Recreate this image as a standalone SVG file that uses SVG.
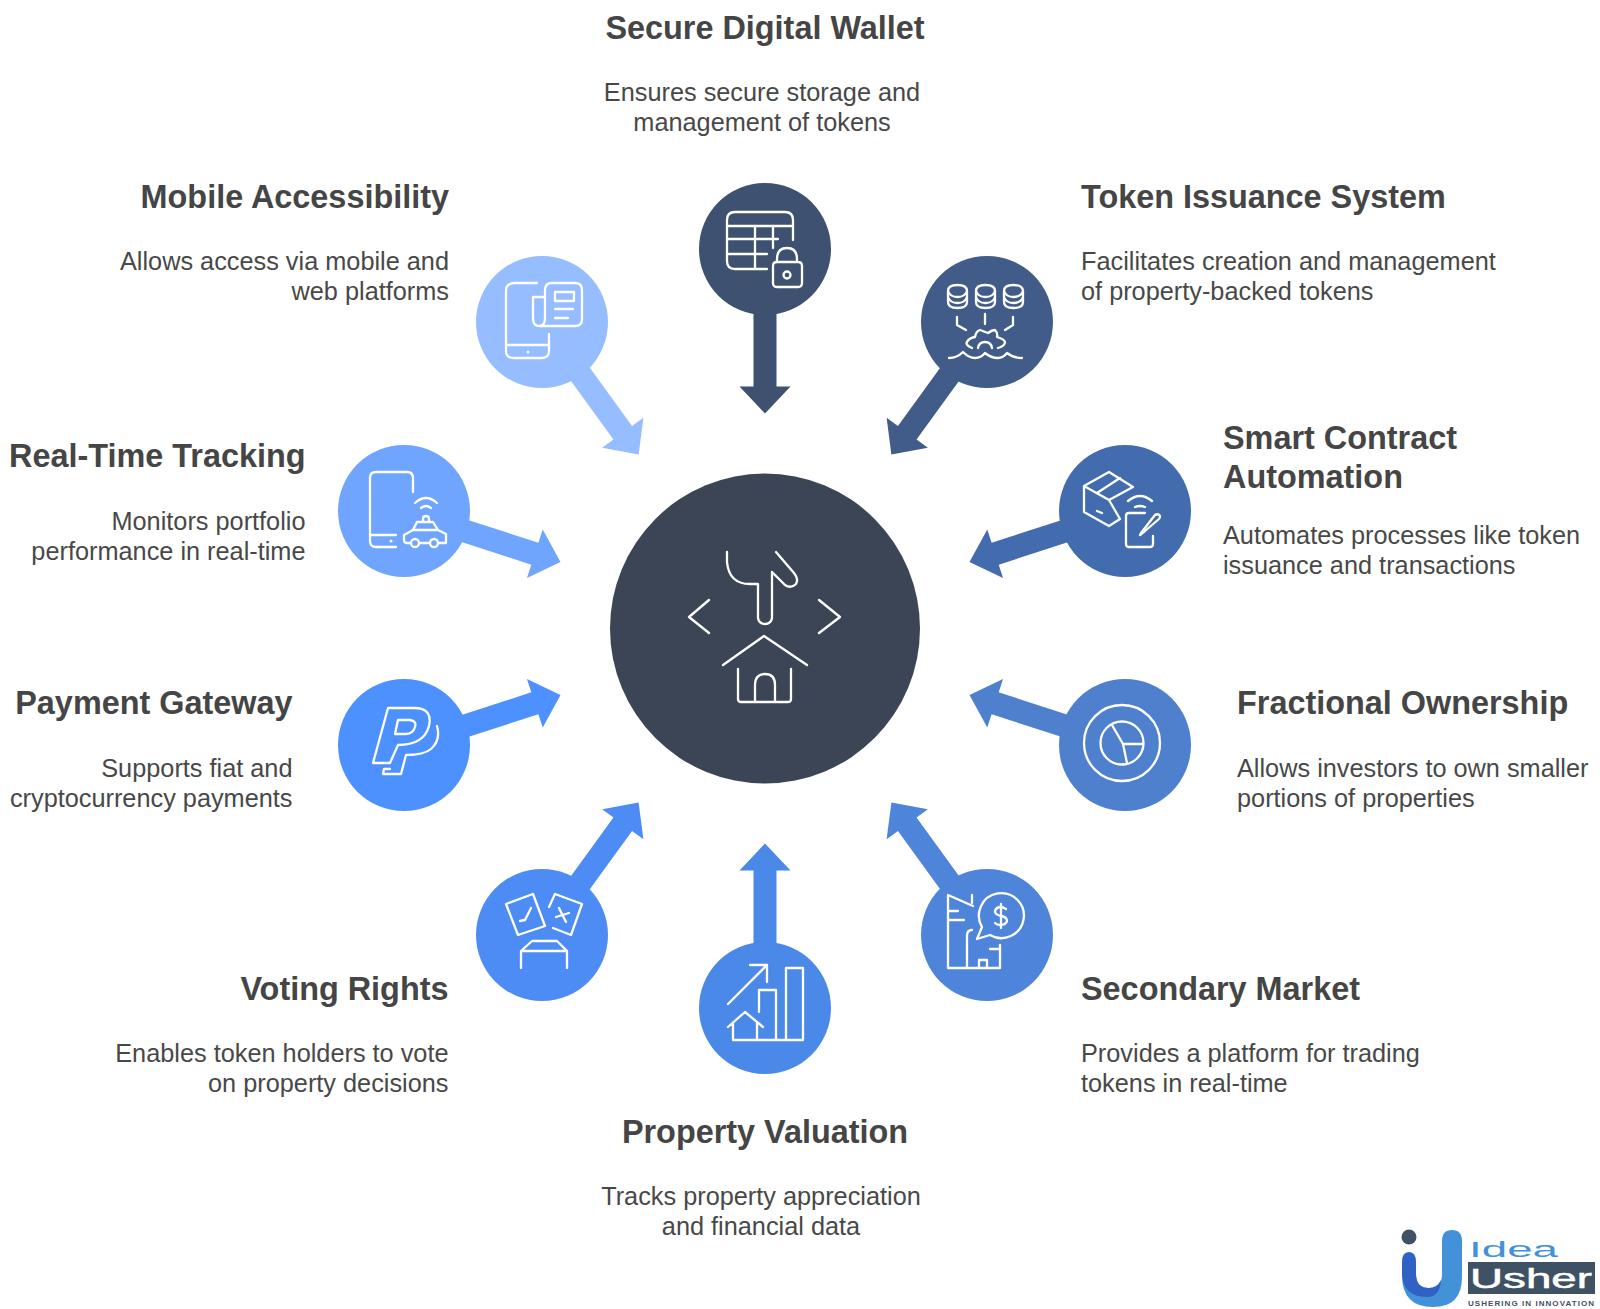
<svg xmlns="http://www.w3.org/2000/svg" width="1600" height="1309" viewBox="0 0 1600 1309">
<style>
.t{font:700 32.4px "Liberation Sans",Arial,sans-serif;fill:#454545}
.b{font:400 25.3px "Liberation Sans",Arial,sans-serif;fill:#484848}
.e{text-anchor:end}.m{text-anchor:middle}
.i{fill:none;stroke:#fff;stroke-width:2.3;stroke-linecap:round;stroke-linejoin:round}
</style>
<defs>
<polygon id="arrow" points="-11.500,-325 11.500,-325 11.500,-242 25.500,-242 0,-215 -25.500,-242 -11.500,-242"/>
<path id="db" class="i" d="M948 291Q948 285 957.500 285Q967 285 967 291V302Q967 308 957.500 308Q948 308 948 302ZM948 291Q950 297 957.500 297Q965 297 967 291M948 297Q950 303 957.500 303Q965 303 967 297"/>
</defs>
<rect width="1600" height="1309" fill="#fff"/>
<g id="connectors" transform="translate(765 628.5)">
<use href="#arrow" fill="#3e5170"/>
<use href="#arrow" fill="#415c88" transform="rotate(36)"/>
<use href="#arrow" fill="#426cae" transform="rotate(72)"/>
<use href="#arrow" fill="#4f80ce" transform="rotate(108)"/>
<use href="#arrow" fill="#4f84db" transform="rotate(144)"/>
<use href="#arrow" fill="#4b89e9" transform="rotate(180)"/>
<use href="#arrow" fill="#4d8cf4" transform="rotate(216)"/>
<use href="#arrow" fill="#4d90ff" transform="rotate(252)"/>
<use href="#arrow" fill="#6fa5ff" transform="rotate(288)"/>
<use href="#arrow" fill="#96bdff" transform="rotate(324)"/>
</g>
<g id="center">
<circle cx="765" cy="628.5" r="155" fill="#3c4556"/>
<path class="i" d="M727 552V562Q729 584 750 584H758V618Q759 624 765 624Q771 624 772 618V572L785 585Q791 589 796 584Q799 579 794 573L776 552M709 600L689 617L709 633M819 600L840 617L819 633M723 665L764 636L807 665M738 669V699Q738 702 741 702H788Q791 702 791 699V669M755 702V685Q755 674 765 674Q775 674 775 685V702"/>
</g>
<g id="wallet">
<circle cx="765" cy="249" r="66" fill="#3e5170"/>
<path class="i" d="M767 269H735Q727 269 727 261V220Q727 212 735 212H785Q793 212 793 220V240M727 226H793M727 239H778M727 254H767M755 226V269M773 226V248M777 262V259Q777 248 787 248Q797 248 797 259V262M777 262H798Q802 262 802 266V283Q802 287 798 287H777Q773 287 773 283V266Q773 262 777 262Z"/>
<circle class="i" cx="787" cy="275" r="3.500"/>
</g>
<g id="token">
<circle cx="987" cy="322" r="66" fill="#415c88"/>
<use href="#db"/><use href="#db" x="28"/><use href="#db" x="56"/>
<path class="i" d="M957 317V325L966 330M985 314V324M1013 317V325L1005 330M972 348Q965 345 967 342Q969 338 975 337Q976 331 980 330Q985 332 988 333Q992 330 995 330Q998 333 997 337Q1004 339 1005 342Q1005 346 998 348M978 348Q979 342 985 342Q991 342 992 348M949 358Q957 358 963 352Q969 358 975 358Q981 358 985 353Q991 358 998 358Q1003 358 1007 353Q1013 358 1022 358"/>
</g>
<g id="smart">
<circle cx="1125" cy="511" r="66" fill="#426cae"/>
<path class="i" d="M1120 519L1109 526L1084 512V486L1109 472L1133 487L1109 500ZM1084 486L1109 500M1097 493L1120 478M1097 511L1102 513M1128 501Q1140 491 1152 501M1135 507Q1140 505 1145 507M1145 513H1129Q1126 513 1126 516V544Q1126 547 1129 547H1150Q1153 547 1153 544V536M1141 533L1155 515Q1158 513 1160 516Q1160 518 1159 519L1145 531L1140 535Z"/>
</g>
<g id="fractional">
<circle cx="1125" cy="745" r="66" fill="#4f80ce"/>
<circle class="i" cx="1122" cy="743" r="38"/>
<circle class="i" cx="1122" cy="743" r="21.500"/>
<path class="i" d="M1112 725L1123 744H1143M1123 744L1127 763"/>
</g>
<g id="secondary">
<circle cx="987" cy="935" r="66" fill="#4f84db"/>
<path class="i" d="M1000 945V968H948V895L973 906M972 895V903M948 911H958M948 920H964M967 968V936Q967 930 972 930M990 949H1000M979 968V960H987V968"/>
<path class="i" d="M982 927L977 939L990 935A22.500 22.500 0 1 0 982 927Z"/>
<path class="i" d="M1006 909Q1003 907 1000 907Q995 908 995 912Q996 915 1001 916Q1007 917 1007 921Q1006 925 1000 925Q997 925 995 923M1001 904V928"/>
</g>
<g id="valuation">
<circle cx="765" cy="1008" r="66" fill="#4b89e9"/>
<path class="i" d="M728 1004L767 965M750 965H767V982M728 1027L745 1012L763 1027M733 1023V1040H803V968H786V1040M757 1023V1040M759 1012V990H776V1040"/>
</g>
<g id="voting">
<circle cx="542" cy="935" r="66" fill="#4d8cf4"/>
<path class="i" d="M506 904L533 894L545 926L518 935ZM520 921L525 920L531 908M549 907L555 894L582 904L571 935L553 928M556 917L569 913M559 908L566 922M521 968V951L532 941H557L567 951V968M521 951H567"/>
</g>
<g id="payment">
<circle cx="404" cy="745" r="66" fill="#4d90ff"/>
<path class="i" d="M388 708H414Q433 708 429 726Q424 745 398 745L390 763H373ZM398 720H410Q417 721 415 727Q413 734 406 734H395ZM437 726Q441 740 431 749Q424 755 406 755L401 774H383L384 769H390"/>
</g>
<g id="realtime">
<circle cx="404" cy="511" r="66" fill="#6fa5ff"/>
<path class="i" d="M413 492V478Q413 472 407 472H376Q370 472 370 478V541Q370 547 376 547H396M370 535H396M415 503Q426 493 437 503M421 508Q426 504 431 508M411 543H407Q404 543 404 540V535L413 530L417 522H433L438 530L446 534V543H438M423 521V519Q423 516 426 516Q429 516 429 519V521M413 530H438M419 543H430"/>
<circle class="i" cx="415" cy="543" r="4"/><circle class="i" cx="434" cy="543" r="4"/>
<circle cx="391" cy="541" r="1.500" fill="#fff"/>
</g>
<g id="mobile">
<circle cx="542" cy="322" r="66" fill="#96bdff"/>
<path class="i" d="M537 283H515Q506 283 506 291V351Q506 358 514 358H541Q549 358 549 351V334M506 345H549M540 326H575Q582 326 582 319V290Q582 283 575 283H552Q545 283 545 290V318Q545 326 539 326Q533 326 533 318V297H545M555 292H574V301H555ZM555 309H573M555 318H568"/>
<circle cx="528" cy="352" r="1.500" fill="#fff"/>
</g>
<g id="labels">
<text class="t m" x="765" y="39">Secure Digital Wallet</text>
<text class="b m" x="762" y="100.500">Ensures secure storage and</text>
<text class="b m" x="762" y="130.500">management of tokens</text>
<text class="t" x="1081" y="208">Token Issuance System</text>
<text class="b" x="1081" y="269.500">Facilitates creation and management</text>
<text class="b" x="1081" y="300">of property-backed tokens</text>
<text class="t" x="1223" y="448.500">Smart Contract</text>
<text class="t" x="1223" y="487.500">Automation</text>
<text class="b" x="1223" y="543.500">Automates processes like token</text>
<text class="b" x="1223" y="573.500">issuance and transactions</text>
<text class="t" x="1237" y="714">Fractional Ownership</text>
<text class="b" x="1237" y="776.500">Allows investors to own smaller</text>
<text class="b" x="1237" y="806.500">portions of properties</text>
<text class="t" x="1081" y="1000">Secondary Market</text>
<text class="b" x="1081" y="1061.500">Provides a platform for trading</text>
<text class="b" x="1081" y="1091.500">tokens in real-time</text>
<text class="t m" x="765" y="1143">Property Valuation</text>
<text class="b m" x="761" y="1204.500">Tracks property appreciation</text>
<text class="b m" x="761" y="1234.500">and financial data</text>
<text class="t e" x="448.500" y="1000">Voting Rights</text>
<text class="b e" x="448.500" y="1061.500">Enables token holders to vote</text>
<text class="b e" x="448.500" y="1091.500">on property decisions</text>
<text class="t e" x="292.500" y="714">Payment Gateway</text>
<text class="b e" x="292.500" y="776.500">Supports fiat and</text>
<text class="b e" x="292.500" y="806.500">cryptocurrency payments</text>
<text class="t e" x="305.500" y="467">Real-Time Tracking</text>
<text class="b e" x="305.500" y="530">Monitors portfolio</text>
<text class="b e" x="305.500" y="560">performance in real-time</text>
<text class="t e" x="449" y="208">Mobile Accessibility</text>
<text class="b e" x="449" y="269.500">Allows access via mobile and</text>
<text class="b e" x="449" y="300">web platforms</text>
</g>
<g id="logo">
<path d="M1402 1268V1275Q1402 1307 1433 1307Q1462 1307 1462 1277V1241Q1462 1230 1452 1230Q1442 1230 1442 1241V1274Q1442 1288 1429 1288Q1416 1288 1416 1274V1268Z" fill="#4391d9"/>
<path d="M1402 1262Q1402 1252 1409 1252Q1416 1252 1416 1262V1274Q1416 1288 1429 1288Q1437 1288 1441 1280Q1440 1297 1427 1297Q1402 1297 1402 1272Z" fill="#2f62c4"/>
<circle cx="1409" cy="1237" r="7.500" fill="#3f5164"/>
<text x="1469" y="1257" font-family="'Liberation Sans',sans-serif" font-size="22" fill="#4391d9" textLength="89" lengthAdjust="spacingAndGlyphs">Idea</text>
<rect x="1468" y="1262" width="127" height="32" fill="#3f5164"/>
<text x="1470" y="1288" font-family="'Liberation Sans',sans-serif" font-size="27" fill="#fff" stroke="#fff" stroke-width=".5" textLength="122" lengthAdjust="spacingAndGlyphs">Usher</text>
<text x="1468" y="1306" font-family="'Liberation Sans',sans-serif" font-size="8" font-weight="700" fill="#3f5164" textLength="126">USHERING IN INNOVATION</text>
</g>
</svg>
